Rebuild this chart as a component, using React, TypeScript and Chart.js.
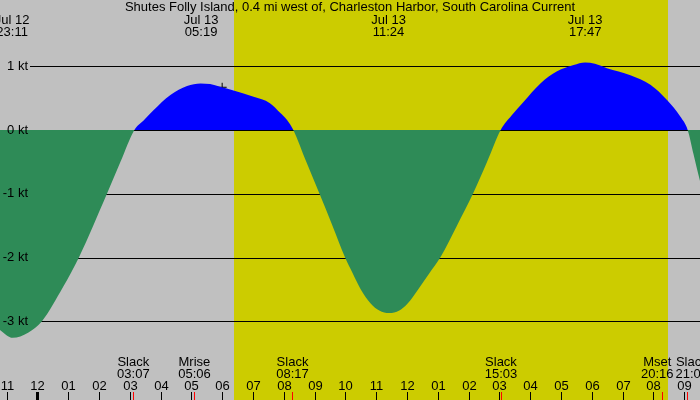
import React, { useEffect, useRef } from "react";
import { Chart, registerables } from "chart.js";

Chart.register(...registerables);

const TITLE =
  "Shutes Folly Island, 0.4 mi west of, Charleston Harbor, South Carolina Current";

// hours relative to Jul 13 00:00
const hoursFromMidnight = [
  -1.6, -1.2, -0.8, -0.3, 0.15, 0.84, 1.35, 2.26, 2.7, 3.15,
  3.45, 3.77, 4.32, 4.86, 5.3, 5.61, 5.93, 6.37, 7.02, 7.55, 7.88, 8.1, 8.31,
  8.73, 9.16, 9.58, 9.99, 10.24, 10.5, 10.82, 11.1, 11.42, 11.75, 12.02, 12.36, 12.72, 13.08, 13.62, 14.14, 14.6, 15.04,
  15.4, 15.78, 16.33, 16.87, 17.41, 17.78, 18.1, 18.49, 19.25, 19.9, 20.44, 20.87, 21.11,
  21.3, 21.5, 21.8,
];
const currentKt = [
  -2.98, -3.14, -3.26, -3.18, -3.0, -2.46, -2.0, -1.0, -0.5, 0,
  0.15, 0.31, 0.55, 0.69, 0.73, 0.72, 0.68, 0.62, 0.52, 0.42, 0.27, 0.16, 0,
  -0.5, -1.0, -1.5, -2.0, -2.25, -2.5, -2.72, -2.83, -2.87, -2.83, -2.72, -2.5, -2.25, -2.0, -1.5, -1.0, -0.5, 0,
  0.23, 0.44, 0.73, 0.92, 1.02, 1.06, 1.04, 0.97, 0.86, 0.71, 0.47, 0.21, 0,
  -0.38, -0.78, -1.3,
];

const levelTicks = [1, 0, -1, -2, -3];
const levelLabels = ["1 kt", "0 kt", "-1 kt", "-2 kt", "-3 kt"];

const hourTicks = [-1, 0, 1, 2, 3, 4, 5, 6, 7, 8, 9, 10, 11, 12, 13, 14, 15, 16, 17, 18, 19, 20, 21];
const hourLabels = [
  "11", "12", "01", "02", "03", "04", "05", "06", "07", "08", "09", "10", "11",
  "12", "01", "02", "03", "04", "05", "06", "07", "08", "09",
];

const peakTimes = [-0.817, 5.317, 11.4, 17.783];
const peakDates = ["Jul 12", "Jul 13", "Jul 13", "Jul 13"];
const peakClock = ["23:11", "05:19", "11:24", "17:47"];

const eventTimes = [3.117, 5.1, 8.283, 15.05, 20.267, 21.1];
const eventNames = ["Slack", "Mrise", "Slack", "Slack", "Mset", "Slack"];
const eventClock = ["03:07", "05:06", "08:17", "15:03", "20:16", "21:06"];

const sunrise = 6.37;
const sunset = 20.47;

const nowTime = [6.0];
const nowValue = [0.67];

const X_MIN = -1.211;
const X_MAX = 21.51;
const Y_MIN = -4.235;
const Y_MAX = 2.039;

const FONT = '13px "Liberation Sans", Arial, sans-serif';

const tidePlugin = {
  id: "tidePlugin",
  beforeDraw(chart: any) {
    const { ctx, width, height } = chart;
    const xs = chart.scales.x;
    ctx.save();
    ctx.fillStyle = "#c0c0c0";
    ctx.fillRect(0, 0, width, height);
    const a = Math.round(xs.getPixelForValue(sunrise));
    const b = Math.round(xs.getPixelForValue(sunset));
    ctx.fillStyle = "#cccc00";
    ctx.fillRect(a, 0, b - a, height);
    ctx.restore();
  },
  beforeDatasetsDraw(chart: any) {
    const { ctx, width } = chart;
    const ys = chart.scales.y;
    ctx.save();
    ctx.strokeStyle = "#000";
    ctx.lineWidth = 1;
    levelTicks.forEach((v) => {
      const y = Math.round(ys.getPixelForValue(v)) + 0.5;
      ctx.beginPath();
      ctx.moveTo(30, y);
      ctx.lineTo(width, y);
      ctx.stroke();
    });
    ctx.restore();
  },
  afterDatasetsDraw(chart: any) {
    const { ctx, width, height } = chart;
    const xs = chart.scales.x;
    const ys = chart.scales.y;
    ctx.save();
    ctx.font = FONT;
    ctx.fillStyle = "#000";
    ctx.textBaseline = "middle";

    ctx.textAlign = "right";
    levelTicks.forEach((v, i) => {
      ctx.fillText(levelLabels[i], 28, ys.getPixelForValue(v));
    });

    ctx.textAlign = "center";
    ctx.fillText(TITLE, width / 2, 7.5);
    peakTimes.forEach((t, i) => {
      const x = xs.getPixelForValue(t);
      ctx.fillText(peakDates[i], x, 20);
      ctx.fillText(peakClock[i], x, 32);
    });

    hourTicks.forEach((h, i) => {
      const x = Math.round(xs.getPixelForValue(h));
      const isMidnight = h % 24 === 0;
      ctx.fillStyle = "#000";
      if (isMidnight) ctx.fillRect(x - 1, 392, 3, height - 392);
      else ctx.fillRect(x, 392, 1, height - 392);
      ctx.fillText(hourLabels[i], x + 0.5, 386);
    });

    const centers = eventTimes.map((t) => xs.getPixelForValue(t));
    const widths = eventTimes.map((_, i) =>
      Math.max(ctx.measureText(eventNames[i]).width, ctx.measureText(eventClock[i]).width)
    );
    const pos = centers.slice();
    for (let iter = 0; iter < 20; iter++) {
      for (let i = 0; i < pos.length - 1; i++) {
        const need = (widths[i] + widths[i + 1]) / 2 + 2;
        const gap = pos[i + 1] - pos[i];
        if (gap < need) {
          const d = (need - gap) / 2;
          pos[i] -= d;
          pos[i + 1] += d;
        }
      }
    }
    eventTimes.forEach((t, i) => {
      const x = Math.round(centers[i]);
      ctx.fillStyle = "#ff0000";
      ctx.fillRect(x, 392, 1, height - 392);
      ctx.fillStyle = "#000";
      ctx.fillText(eventNames[i], pos[i], 362);
      ctx.fillText(eventClock[i], pos[i], 374);
    });
    ctx.restore();
  },
};

export default function App() {
  const ref = useRef<HTMLCanvasElement | null>(null);
  useEffect(() => {
    if (!ref.current) return;
    const chart = new Chart(ref.current, {
      type: "line",
      data: {
        datasets: [
          {
            data: hoursFromMidnight.map((h, i) => ({ x: h, y: currentKt[i] })),
            borderWidth: 0,
            borderColor: "rgba(0,0,0,0)",
            pointRadius: 0,
            cubicInterpolationMode: "monotone",
            fill: { target: "origin", above: "#0000ff", below: "#2e8b57" },
            clip: false,
          } as any,
          {
            type: "scatter",
            data: nowTime.map((h, i) => ({ x: h, y: nowValue[i] })),
            pointStyle: "cross",
            pointRadius: 4.5,
            borderColor: "#000",
            borderWidth: 1,
            showLine: false,
          } as any,
        ],
      },
      options: {
        animation: false,
        responsive: false,
        maintainAspectRatio: false,
        layout: { padding: 0, autoPadding: false },
        plugins: { legend: { display: false }, tooltip: { enabled: false }, title: { display: false } },
        events: [],
        scales: {
          x: { type: "linear", min: X_MIN, max: X_MAX, display: false },
          y: { type: "linear", min: Y_MIN, max: Y_MAX, display: false },
        },
      },
      plugins: [tidePlugin],
    });
    return () => chart.destroy();
  }, []);
  return (
    <div style={{ position: "fixed", left: 0, top: 0, width: 700, height: 400 }}>
      <canvas ref={ref} width={700} height={400} style={{ display: "block", width: 700, height: 400 }} />
    </div>
  );
}
